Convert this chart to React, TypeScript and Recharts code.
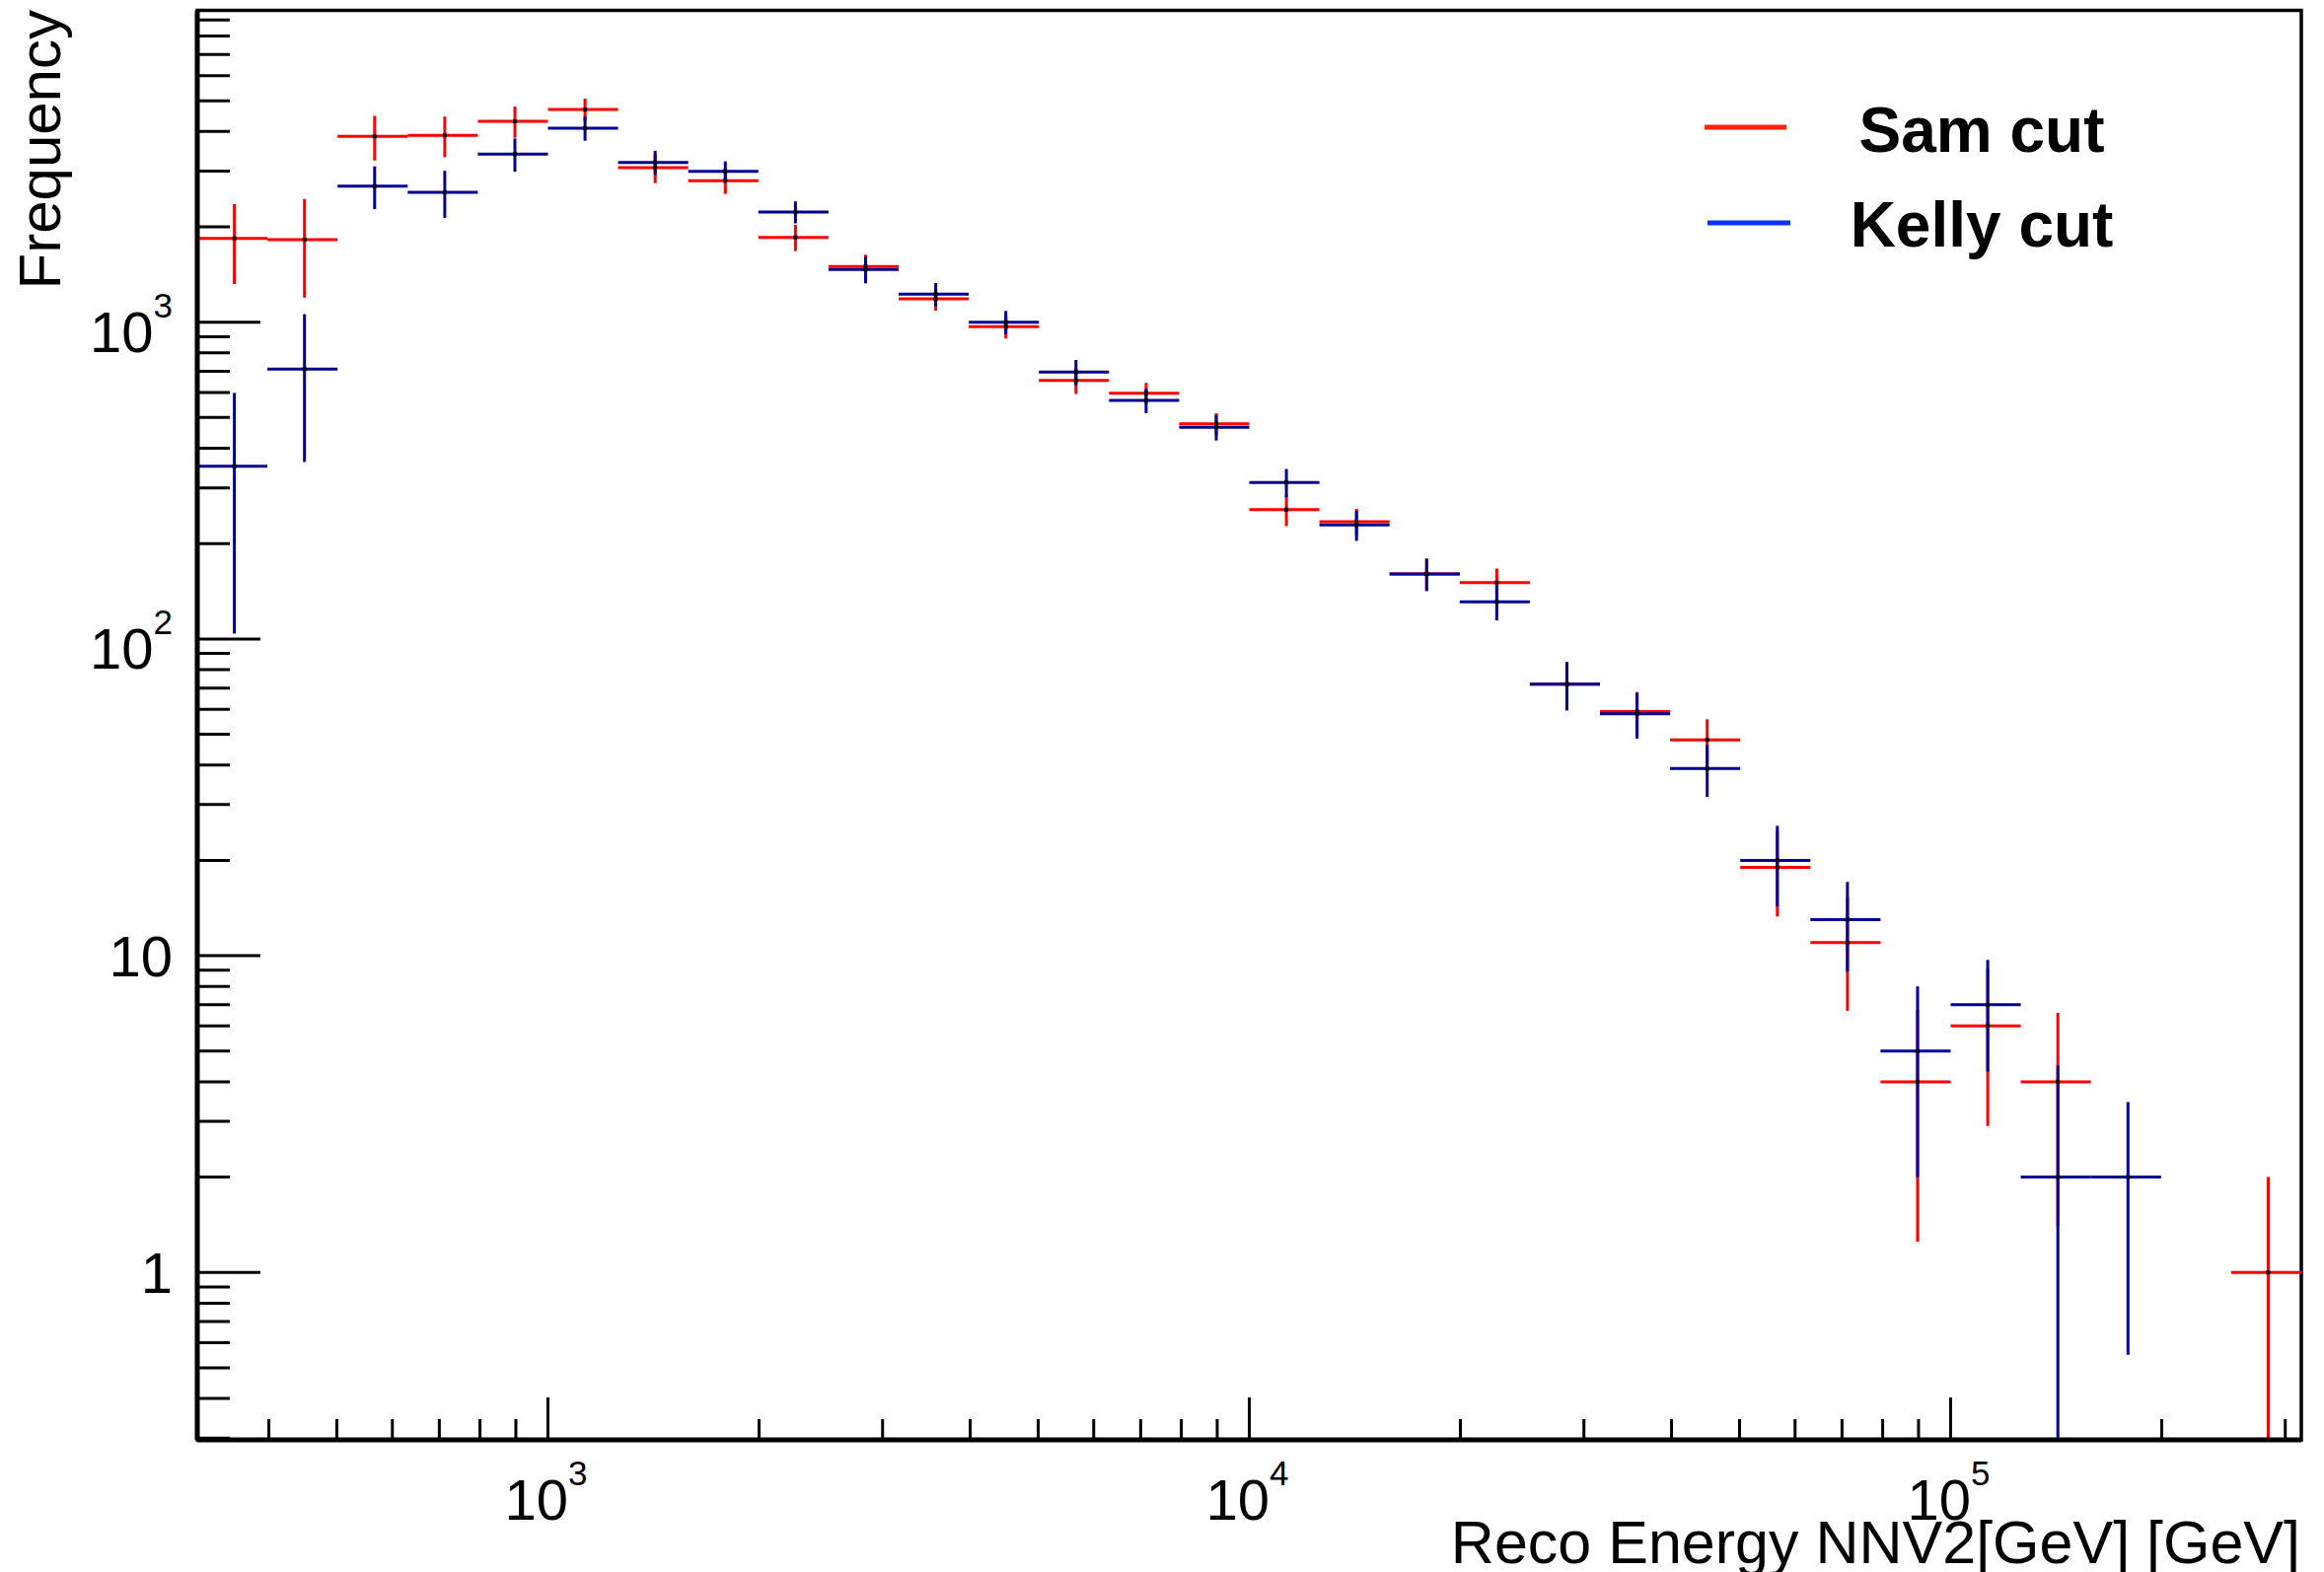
import React from 'react';
import { ComposedChart, Scatter, XAxis, YAxis, ErrorBar, ReferenceArea } from 'recharts';

// ---- data ----
const BIN_EDGES = [
  316.23, 398.11, 501.19, 630.96, 794.33, 1000, 1258.93, 1584.89, 1995.26, 2511.89,
  3162.28, 3981.07, 5011.87, 6309.57, 7943.28, 10000, 12589.3, 15848.9, 19952.6, 25118.9,
  31622.8, 39810.7, 50118.7, 63095.7, 79432.8, 100000, 125893, 158489, 199526, 251189, 316228,
];

const SAM_VALUES = [
  1839, 1822, 3860, 3888, 4307, 4694, 3075, 2795, 1853, 1498,
  1185, 968, 655, 597, 478, 256, 234.5, 160.5, 150.7, 72,
  59, 48, 19, 11, 4, 6, 4, null, null, 1,
];
const SAM_ERRORS = [
  520, 627, 620, 570, 485, 385, 327, 255, 177, 135,
  98, 80, 61, 46, 38, 29, 23, 18, 16, 12.5,
  9, 7.8, 5.7, 4.3, 2.75, 3.1, 2.6, null, null, 1,
];
const KELLY_VALUES = [
  351, 711, 2689, 2570, 3393, 4097, 3195, 2995, 2228, 1466,
  1226, 1000, 696, 566, 466, 312, 229, 160.5, 131, 72,
  58, 39, 20, 13, 5, 7, 2, 2, null, null,
];
const KELLY_ERRORS = [
  247, 349, 415, 435, 410, 357, 280, 223, 178, 140,
  103, 85, 64, 50, 43, 32, 25, 19, 16.6, 12.5,
  9.6, 7.3, 5.7, 4.1, 3, 2.7, 2.5, 1.45, null, null,
];

const X_DOMAIN = [316.23, 316228];
const Y_DOMAIN = [0.2962, 9647];

const X_MAJOR_TICKS = [1000, 10000, 100000];
const X_MAJOR_LABELS = [['10', '3'], ['10', '4'], ['10', '5']];
const X_MINOR_TICKS = [
  400, 500, 600, 700, 800, 900,
  2000, 3000, 4000, 5000, 6000, 7000, 8000, 9000,
  20000, 30000, 40000, 50000, 60000, 70000, 80000, 90000,
  200000, 300000,
];
const Y_MAJOR_TICKS = [1, 10, 100, 1000];
const Y_MAJOR_LABELS = [['1', ''], ['10', ''], ['10', '2'], ['10', '3']];
const Y_MINOR_TICKS = [
  0.3, 0.4, 0.5, 0.6, 0.7, 0.8, 0.9,
  2, 3, 4, 5, 6, 7, 8, 9,
  20, 30, 40, 50, 60, 70, 80, 90,
  200, 300, 400, 500, 600, 700, 800, 900,
  2000, 3000, 4000, 5000, 6000, 7000, 8000, 9000,
];

const SERIES_NAMES = ['Sam cut', 'Kelly cut'];
const X_TITLE = 'Reco Energy NNV2[GeV] [GeV]';
const Y_TITLE = 'Frequency';

// ---- styling ----
const FONT = '"Liberation Sans", Arial, Helvetica, sans-serif';
const RED = '#ff0000';
const BLUE = '#000099';
const W = 2356;
const H = 1594;

type Pt = { x: number; y: number; xErr: number[]; yErr: number[] };

function buildSeries(values: (number | null)[], errors: (number | null)[]): Pt[] {
  const out: Pt[] = [];
  values.forEach((v, i) => {
    if (v == null) return;
    const lo = BIN_EDGES[i];
    const hi = BIN_EDGES[i + 1];
    const x = (lo + hi) / 2;
    const e = errors[i] as number;
    out.push({
      x,
      y: v,
      xErr: [x - lo, hi - x],
      yErr: [Math.min(e, v - Y_DOMAIN[0]), Math.min(e, Y_DOMAIN[1] - v)],
    });
  });
  return out;
}

const samData = buildSeries(SAM_VALUES, SAM_ERRORS);
const kellyData = buildSeries(KELLY_VALUES, KELLY_ERRORS);

const X_TICKS = [...X_MINOR_TICKS, ...X_MAJOR_TICKS].sort((a, b) => a - b);
const Y_TICKS = [...Y_MINOR_TICKS, ...Y_MAJOR_TICKS].sort((a, b) => a - b);

const renderXTick = (props: any) => {
  const { x, y, payload } = props;
  const mi = X_MAJOR_TICKS.indexOf(payload.value);
  const major = mi >= 0;
  return (
    <g>
      <line x1={x} x2={x} y1={y} y2={y - (major ? 43 : 21)} stroke="#000" strokeWidth={3} />
      {major && (
        <text x={x - 2} y={y + 81} textAnchor="middle" fontSize={58} fontFamily={FONT} fill="#000">
          {X_MAJOR_LABELS[mi][0]}
          <tspan dy={-35} fontSize={35}>{X_MAJOR_LABELS[mi][1]}</tspan>
        </text>
      )}
    </g>
  );
};

const renderYTick = (props: any) => {
  const { x, y, payload } = props;
  const mi = Y_MAJOR_TICKS.indexOf(payload.value);
  const major = mi >= 0;
  const hasExp = major && Y_MAJOR_LABELS[mi][1] !== '';
  return (
    <g>
      <line x1={x} x2={x + (major ? 64 : 33)} y1={y} y2={y} stroke="#000" strokeWidth={3} />
      {major && (
        <text x={x - 25} y={y + (hasExp ? 30 : 21)} textAnchor="end" fontSize={58} fontFamily={FONT} fill="#000">
          {Y_MAJOR_LABELS[mi][0]}
          {hasExp && <tspan dy={-35} fontSize={35}>{Y_MAJOR_LABELS[mi][1]}</tspan>}
        </text>
      )}
    </g>
  );
};

const dotShape = (props: any) => {
  const { cx, cy } = props;
  if (cx == null || cy == null) return <g />;
  return <rect x={cx - 2} y={cy - 2} width={4} height={4} fill="#000" />;
};

export default function App() {
  return (
    <div style={{ position: 'absolute', left: 0, top: 0, width: W, height: H, background: '#fff', overflow: 'hidden' }}>
      <ComposedChart
        width={W}
        height={H}
        margin={{ top: 10.5, right: 23, bottom: 34, left: 100 }}
      >
        <XAxis
          dataKey="x"
          type="number"
          scale="log"
          domain={X_DOMAIN}
          allowDataOverflow
          ticks={X_TICKS}
          interval={0}
          tickSize={0}
          tickMargin={0}
          tickLine={false}
          tick={renderXTick}
          height={100}
          axisLine={{ stroke: '#000', strokeWidth: 5 }}
        />
        <YAxis
          dataKey="y"
          type="number"
          scale="log"
          domain={Y_DOMAIN}
          allowDataOverflow
          ticks={Y_TICKS}
          interval={0}
          tickSize={0}
          tickMargin={0}
          tickLine={false}
          tick={renderYTick}
          width={100}
          axisLine={{ stroke: '#000', strokeWidth: 5 }}
        />
        <ReferenceArea
          x1={X_DOMAIN[0]}
          x2={X_DOMAIN[1]}
          y1={Y_DOMAIN[0]}
          y2={Y_DOMAIN[1]}
          fill="none"
          fillOpacity={0}
          stroke="#000"
          strokeWidth={3.5}
          ifOverflow="visible"
        />
        <Scatter name={SERIES_NAMES[0]} data={samData} shape={dotShape} isAnimationActive={false}>
          <ErrorBar dataKey="xErr" direction="x" width={0} stroke={RED} strokeWidth={3} />
          <ErrorBar dataKey="yErr" direction="y" width={0} stroke={RED} strokeWidth={3} />
        </Scatter>
        <Scatter name={SERIES_NAMES[1]} data={kellyData} shape={dotShape} isAnimationActive={false}>
          <ErrorBar dataKey="xErr" direction="x" width={0} stroke={BLUE} strokeWidth={3} />
          <ErrorBar dataKey="yErr" direction="y" width={0} stroke={BLUE} strokeWidth={3} />
        </Scatter>
      </ComposedChart>
      <svg
        width={W}
        height={H}
        style={{ position: 'absolute', left: 0, top: 0, pointerEvents: 'none' }}
      >
        <line x1={1728} x2={1811} y1={129} y2={129} stroke="#ff2200" strokeWidth={5} />
        <text x={2009} y={154} textAnchor="middle" fontSize={64} fontWeight="bold" fontFamily={FONT} fill="#000">
          {SERIES_NAMES[0]}
        </text>
        <line x1={1731} x2={1815} y1={226} y2={226} stroke="#0a32ff" strokeWidth={5} />
        <text x={2009} y={250} textAnchor="middle" fontSize={64} fontWeight="bold" fontFamily={FONT} fill="#000">
          {SERIES_NAMES[1]}
        </text>
        <text x={2332} y={1585} textAnchor="end" fontSize={61} fontFamily={FONT} fill="#000">
          {X_TITLE}
        </text>
        <text transform="rotate(-90)" x={-10} y={61} textAnchor="end" fontSize={60} fontFamily={FONT} fill="#000">
          {Y_TITLE}
        </text>
      </svg>
    </div>
  );
}
